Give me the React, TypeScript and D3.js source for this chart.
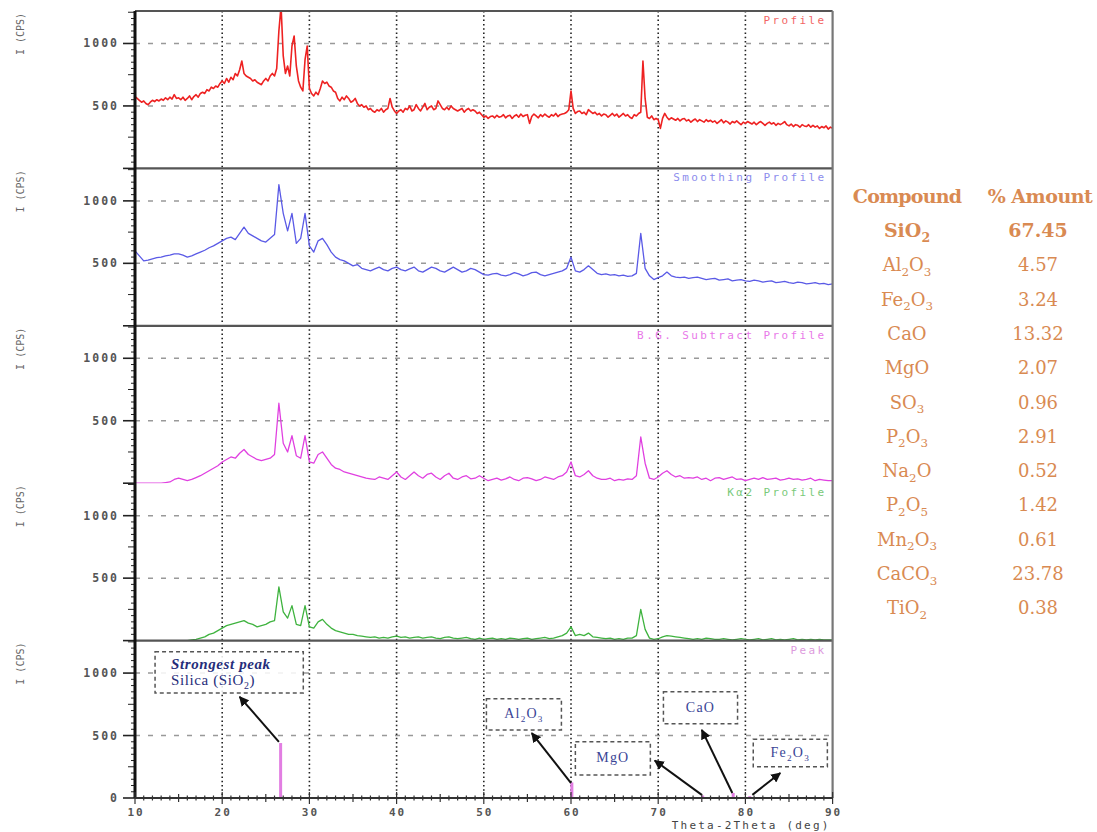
import React, { useEffect, useRef } from "react";
import * as d3 from "d3";

// sampling of the scans (deg 2-theta)
const thetaStart = 10;
const rawStep = 0.25;
const smoothStep = 0.5;

// raw profile, every 0.25 deg from 10 to 90
const profileCps = [
  575, 560, 545, 530, 540, 520, 510, 530, 545, 535, 550, 540, 555, 545, 565, 550,
  570, 555, 590, 560, 565, 550, 570, 545, 560, 580, 550, 575, 590, 570, 600, 610,
  600, 630, 620, 650, 640, 660, 650, 680, 700, 680, 720, 690, 730, 710, 760, 740,
  790, 860, 760, 740, 730, 720, 700, 710, 690, 680, 670, 700, 720, 700, 740, 760,
  740, 800, 1100, 1300, 900, 760, 820, 740, 980, 1060, 820, 700, 650, 620, 870, 980,
  640, 600, 580, 610, 590, 640, 700, 680, 690, 660, 650, 620, 610, 560, 540, 570,
  550, 580, 560, 530, 540, 560, 520, 500, 510, 490, 500, 470, 480, 460, 450, 470,
  460, 480, 450, 470, 480, 560, 490, 460, 440, 460, 470, 450, 480, 470, 500, 460,
  470, 510, 480, 460, 490, 520, 470, 490, 500, 470, 480, 540, 510, 480, 470, 490,
  470, 500, 480, 470, 460, 470, 480, 450, 470, 480, 460, 470, 460, 440, 450, 430,
  410, 420, 400, 415, 420, 405, 425, 410, 415, 430, 405, 420, 425, 400, 420, 430,
  410, 435, 415, 425, 430, 360, 415, 435, 420, 405, 430, 415, 435, 420, 410, 430,
  420, 440, 415, 430, 435, 440, 450, 470, 620, 480, 440, 455, 460, 440, 450, 430,
  470, 455, 440, 450, 430, 440, 420, 435, 430, 410, 425, 440, 420, 435, 410, 425,
  440, 420, 430, 410, 400, 430, 420, 440, 450, 860, 560, 410, 400, 420, 390, 400,
  390, 320, 400, 440, 410, 390, 405, 395, 385, 400, 380, 395, 400, 380, 390, 370,
  385, 395, 375, 390, 380, 370, 390, 375, 385, 370, 380, 360, 375, 390, 365, 380,
  370, 355, 375, 365, 380, 365, 350, 370, 360, 375, 365, 355, 370, 350, 365, 375,
  360, 345, 360, 370, 355, 365, 345, 360, 350, 360, 375, 350, 340, 355, 335, 350,
  345, 330, 350, 340, 335, 350, 330, 345, 330, 340, 320, 335, 325, 340, 315, 330,
  320,
];

// smoothed / background-subtracted / K-alpha2 profiles, every 0.5 deg
const smoothingCps = [
  600, 560, 520, 525, 535, 545, 550, 560, 565, 575, 575, 565, 550, 560, 575, 590,
  605, 625, 640, 660, 680, 700, 710, 690, 740, 790, 740, 720, 700, 680, 670, 700,
  730, 1130, 900, 760, 900, 660, 700, 900, 640, 590, 680, 700, 650, 590, 550, 530,
  520, 500, 480, 490, 460, 450, 440, 455, 470, 450, 440, 460, 470, 450, 440, 455,
  470, 440, 430, 450, 470, 460, 440, 430, 450, 470, 450, 430, 440, 460, 450, 430,
  410, 405, 415, 420, 405, 400, 410, 425, 415, 400, 410, 425, 430, 410, 400, 410,
  420, 430, 440, 460, 550, 440, 430, 450, 480, 450, 420, 410, 415, 405, 410, 400,
  405, 395, 400, 420, 740, 460, 400, 370, 385, 400, 430, 400, 390, 385, 390, 380,
  385, 390, 380, 370, 375, 380, 365, 370, 375, 360, 365, 370, 360, 355, 365, 360,
  350, 355, 360, 345, 350, 355, 345, 340, 350, 345, 335, 340, 345, 335, 340, 330,
  335,
];

const bgSubtractCps = [
  0, 0, 0, 0, 0, 0, 0, 5, 10, 30, 40, 30, 20, 30, 45, 60,
  80, 100, 120, 140, 170, 190, 210, 200, 240, 270, 230, 210, 190, 180, 190, 200,
  230, 640, 320, 250, 380, 220, 200, 380, 170, 160, 230, 250, 200, 150, 120, 110,
  90, 80, 70, 60, 50, 40, 35, 30, 50, 40, 30, 60, 90, 50, 30, 60,
  90, 60, 40, 70, 80, 50, 30, 60, 80, 40, 30, 50, 60, 35, 40, 60,
  40, 20, 30, 40, 25, 35, 50, 30, 20, 40, 45, 35, 20, 30, 50, 40,
  30, 50, 60, 90, 170, 60, 50, 70, 100, 60, 40, 30, 30, 40, 20, 30,
  25, 35, 30, 60, 370, 160, 40, 30, 50, 80, 100, 70, 50, 60, 40, 45,
  40, 50, 30, 40, 20, 40, 45, 30, 40, 50, 30, 35, 20, 30, 40, 30,
  45, 30, 35, 40, 25, 30, 40, 30, 35, 25, 30, 40, 20, 30, 25, 20,
  20,
];

const kAlpha2Cps = [
  0, 0, 0, 0, 0, 0, 0, 0, 0, 0, 0, 0, 0, 5, 10, 20,
  30, 50, 60, 80, 100, 120, 130, 140, 150, 160, 140, 130, 110, 120, 130, 150,
  160, 430, 230, 180, 280, 130, 120, 280, 110, 100, 150, 170, 130, 100, 80, 70,
  60, 50, 50, 40, 35, 30, 25, 30, 20, 25, 20, 30, 35, 25, 30, 20,
  25, 30, 20, 25, 30, 20, 15, 25, 30, 20, 15, 20, 25, 15, 10, 20,
  10, 15, 20, 10, 15, 10, 20, 15, 10, 15, 20, 10, 15, 20, 25, 15,
  20, 30, 40, 60, 110, 40, 50, 40, 60, 30, 25, 20, 15, 20, 10, 15,
  10, 20, 20, 40, 250, 90, 20, 10, 15, 30, 40, 35, 30, 25, 20, 15,
  10, 15, 10, 20, 15, 10, 10, 15, 10, 5, 10, 15, 10, 5, 10, 15,
  5, 10, 15, 5, 10, 5, 10, 15, 5, 10, 5, 10, 5, 10, 5, 5,
  5,
];

// identified peaks
const peakTheta = [26.7, 60.1, 75.1, 78.6, 80.5];
const peakCps = [440, 125, 20, 40, 15];

const xTicks = [10, 20, 30, 40, 50, 60, 70, 80, 90];
const yTickLabels = [1000, 500];

const panelTitles = ["Profile", "Smoothing Profile", "B.G. Subtract Profile", "Kα2 Profile", "Peak"];

// callouts on the peak panel: text, box [x0, x1, yTop, yBottom], arrow [fromX, fromY, toX, toY] (deg / cps)
const calloutText = [["Strongest peak", "Silica (SiO2)"], ["Al2O3"], ["MgO"], ["CaO"], ["Fe2O3"]];
const calloutBox = [
  [12.3, 29.3, 1170, 840],
  [50.3, 58.9, 795, 545],
  [60.5, 69.1, 450, 185],
  [70.6, 79.1, 850, 595],
  [80.9, 89.4, 470, 250],
];
const calloutArrow = [
  [26.5, 450, 22.0, 810],
  [60.0, 120, 55.5, 520],
  [75.0, 25, 69.6, 300],
  [78.5, 40, 75.0, 545],
  [80.8, 25, 84.0, 200],
];

// composition table
const compounds = ["SiO2", "Al2O3", "Fe2O3", "CaO", "MgO", "SO3", "P2O3", "Na2O", "P2O5", "Mn2O3", "CaCO3", "TiO2"];
const amounts = ["67.45", "4.57", "3.24", "13.32", "2.07", "0.96", "2.91", "0.52", "1.42", "0.61", "23.78", "0.38"];

const W = 1097;
const H = 832;

// write a chemical formula with subscripted digits
function formula(sel: any, text: string, size: number) {
  let shift = 0;
  text.split(/(\d+)/).forEach((part, i) => {
    if (!part) return;
    const isSub = i % 2 === 1;
    const target = isSub ? size * 0.25 : 0;
    sel.append("tspan")
      .attr("dy", target - shift)
      .attr("font-size", isSub ? size * 0.66 : size)
      .text(part);
    shift = target;
  });
}

const App = () => {
  const ref = useRef<SVGSVGElement>(null);

  useEffect(() => {
    const svg = d3.select(ref.current);
    svg.selectAll("*").remove();

    const plotTop = 11;
    const panelH = 157.4;
    const left = 135;
    const right = 832.6;
    const bottom = plotTop + panelH * 5;

    const x = d3.scaleLinear().domain([10, 90]).range([left, right]);
    const ys = d3.range(5).map((i) =>
      d3.scaleLinear().domain([0, 1260]).range([plotTop + panelH * (i + 1), plotTop + panelH * i])
    );

    const mono = "DejaVu Sans Mono, monospace";

    // clip paths
    const defs = svg.append("defs");
    ys.forEach((y, i) => {
      defs.append("clipPath").attr("id", `clip${i}`)
        .append("rect")
        .attr("x", left).attr("y", y.range()[1])
        .attr("width", right - left).attr("height", panelH);
    });
    defs.append("marker").attr("id", "arrow")
      .attr("viewBox", "0 0 10 10").attr("refX", 9).attr("refY", 5)
      .attr("markerWidth", 5).attr("markerHeight", 5).attr("orient", "auto")
      .append("path").attr("d", "M0,0L10,5L0,10z").attr("fill", "#111");

    // horizontal grid
    ys.forEach((y) => {
      svg.append("g").selectAll("line").data(yTickLabels).join("line")
        .attr("x1", left).attr("x2", right)
        .attr("y1", (d) => y(d)).attr("y2", (d) => y(d))
        .attr("stroke", "#999").attr("stroke-width", 1.5).attr("stroke-dasharray", "5,8");
    });

    // vertical dotted grid
    svg.append("g").selectAll("line").data(xTicks.slice(1, -1)).join("line")
      .attr("x1", (d) => x(d)).attr("x2", (d) => x(d))
      .attr("y1", plotTop).attr("y2", bottom)
      .attr("stroke", "#222").attr("stroke-width", 1.6).attr("stroke-dasharray", "1.5,2.8");

    // profiles
    const series = [
      { values: profileCps, step: rawStep, color: "#ee2222", panel: 0 },
      { values: smoothingCps, step: smoothStep, color: "#5a5ae6", panel: 1 },
      { values: bgSubtractCps, step: smoothStep, color: "#e040e0", panel: 2 },
      { values: kAlpha2Cps, step: smoothStep, color: "#3fb33f", panel: 3 },
    ];
    series.forEach((s) => {
      const y = ys[s.panel];
      const line = d3.line<number>()
        .x((_, i) => x(thetaStart + i * s.step))
        .y((d) => y(d));
      svg.append("path")
        .datum(s.values)
        .attr("clip-path", `url(#clip${s.panel})`)
        .attr("d", line)
        .attr("fill", "none")
        .attr("stroke", s.color)
        .attr("stroke-width", s.panel === 0 ? 1.6 : 1.3)
        .attr("stroke-linejoin", "round");
    });

    // peak sticks
    svg.append("g").selectAll("line").data(peakTheta).join("line")
      .attr("x1", (d) => x(d)).attr("x2", (d) => x(d))
      .attr("y1", ys[4](0)).attr("y2", (_, i) => ys[4](peakCps[i]))
      .attr("stroke", "#e27ee2").attr("stroke-width", 3);

    // panel borders
    [0, 1, 2, 4].forEach((i) => {
      svg.append("line")
        .attr("x1", left).attr("x2", right)
        .attr("y1", ys[i].range()[1]).attr("y2", ys[i].range()[1])
        .attr("stroke", "#555").attr("stroke-width", 2.2);
    });
    svg.append("line")
      .attr("x1", right).attr("x2", right).attr("y1", plotTop).attr("y2", bottom)
      .attr("stroke", "#777").attr("stroke-width", 2.2);

    // left axis with ticks per panel
    ys.forEach((y, i) => {
      const g = svg.append("g").attr("transform", `translate(${left},0)`);
      const minor = d3.range(0, 1251, 50);
      g.selectAll("line.minor").data(minor).join("line")
        .attr("class", "minor")
        .attr("x1", (d) => (d % 500 === 0 ? -12 : d % 250 === 0 ? -7 : -4)).attr("x2", 0)
        .attr("y1", (d) => y(d)).attr("y2", (d) => y(d))
        .attr("stroke", "#222").attr("stroke-width", (d) => (d % 500 === 0 ? 1.6 : 1));
      const labels = i === 4 ? [...yTickLabels, 0] : yTickLabels;
      g.selectAll("text").data(labels).join("text")
        .attr("x", -16).attr("y", (d) => y(d) + 4)
        .attr("text-anchor", "end")
        .attr("font-family", mono).attr("font-size", 11.5).attr("font-weight", "bold")
        .attr("letter-spacing", 2).attr("fill", "#555")
        .text((d) => d);
      svg.append("text")
        .attr("transform", `translate(24,${y.range()[1] + 23}) rotate(-90)`)
        .attr("text-anchor", "middle")
        .attr("font-family", mono).attr("font-size", 10).attr("fill", "#666")
        .text("I (CPS)");
      svg.append("text")
        .attr("x", right - 6).attr("y", y.range()[1] + 13)
        .attr("text-anchor", "end")
        .attr("font-family", mono).attr("font-size", 11).attr("letter-spacing", 2.4)
        .attr("fill", series[i] ? series[i].color : "#d070d0").attr("opacity", 0.7)
        .text(panelTitles[i]);
    });
    svg.append("line")
      .attr("x1", left).attr("x2", left).attr("y1", plotTop).attr("y2", bottom)
      .attr("stroke", "#111").attr("stroke-width", 3);

    // bottom axis
    const gx = svg.append("g");
    gx.append("line").attr("x1", left).attr("x2", right).attr("y1", bottom).attr("y2", bottom)
      .attr("stroke", "#333").attr("stroke-width", 2);
    gx.selectAll("line.tick").data(d3.range(10, 91, 1)).join("line")
      .attr("class", "tick")
      .attr("x1", (d) => x(d)).attr("x2", (d) => x(d))
      .attr("y1", (d) => bottom - (d % 10 === 0 ? 6 : d % 5 === 0 ? 4 : 2.5))
      .attr("y2", (d) => bottom + (d % 10 === 0 ? 6 : d % 5 === 0 ? 4 : 2.5))
      .attr("stroke", "#333").attr("stroke-width", 1.2);
    gx.selectAll("text").data(xTicks).join("text")
      .attr("x", (d) => x(d) + 1).attr("y", bottom + 18)
      .attr("text-anchor", "middle")
      .attr("font-family", mono).attr("font-size", 11).attr("font-weight", "bold")
      .attr("letter-spacing", 2).attr("fill", "#555")
      .text((d) => d);
    gx.append("text")
      .attr("x", right - 2).attr("y", 829)
      .attr("text-anchor", "end")
      .attr("font-family", mono).attr("font-size", 11).attr("letter-spacing", 2.2)
      .attr("fill", "#444")
      .text("Theta-2Theta (deg)");

    // callouts
    const yp = ys[4];
    calloutBox.forEach((b, i) => {
      const g = svg.append("g");
      g.append("rect")
        .attr("x", x(b[0])).attr("y", yp(b[2]))
        .attr("width", x(b[1]) - x(b[0])).attr("height", yp(b[3]) - yp(b[2]))
        .attr("fill", "white").attr("fill-opacity", 0.85)
        .attr("stroke", "#555").attr("stroke-width", 1.5).attr("stroke-dasharray", "4,3");
      const lines = calloutText[i];
      if (lines.length === 2) {
        g.append("text")
          .attr("x", x(b[0]) + 16).attr("y", yp(b[2]) + 17)
          .attr("font-family", "Liberation Serif, serif").attr("font-size", 15)
          .attr("font-weight", "bold").attr("font-style", "italic").attr("letter-spacing", 0.6)
          .attr("fill", "#262d7a").text(lines[0]);
        const t = g.append("text")
          .attr("x", x(b[0]) + 16).attr("y", yp(b[2]) + 33)
          .attr("font-family", "Liberation Serif, serif").attr("letter-spacing", 0.6)
          .attr("fill", "#262d7a");
        formula(t, lines[1], 15);
      } else {
        const t = g.append("text")
          .attr("x", (x(b[0]) + x(b[1])) / 2).attr("y", (yp(b[2]) + yp(b[3])) / 2 + 4)
          .attr("text-anchor", "middle")
          .attr("font-family", "Liberation Serif, serif").attr("letter-spacing", 1.2)
          .attr("fill", "#3a4596");
        formula(t, lines[0], 14);
      }
      const a = calloutArrow[i];
      g.append("line")
        .attr("x1", x(a[0])).attr("y1", yp(a[1]))
        .attr("x2", x(a[2])).attr("y2", yp(a[3]))
        .attr("stroke", "#111").attr("stroke-width", 2)
        .attr("marker-end", "url(#arrow)");
    });

    // composition table
    const rowY = d3.scalePoint().domain(compounds).range([237, 614.3]);
    const colC = 907;
    const colA = 1038;
    const tg = svg.append("g").attr("font-family", "DejaVu Serif, serif").attr("fill", "#d98a52");
    tg.append("text").attr("x", colC).attr("y", 203).attr("text-anchor", "middle")
      .attr("font-size", 19).attr("font-weight", "bold").attr("letter-spacing", -0.8)
      .text("Compound");
    tg.append("text").attr("x", colA + 2).attr("y", 203).attr("text-anchor", "middle")
      .attr("font-size", 19).attr("font-weight", "bold").attr("letter-spacing", -0.5)
      .text("% Amount");
    compounds.forEach((c, i) => {
      const bold = i === 0;
      const t = tg.append("text").attr("x", colC).attr("y", rowY(c)!)
        .attr("text-anchor", "middle").attr("font-weight", bold ? "bold" : "normal");
      formula(t, c, bold ? 19 : 18);
      tg.append("text").attr("x", colA).attr("y", rowY(c)!)
        .attr("text-anchor", "middle")
        .attr("font-size", bold ? 19 : 18).attr("font-weight", bold ? "bold" : "normal")
        .text(amounts[i]);
    });
  }, []);

  return (
    <svg
      ref={ref}
      width={W}
      height={H}
      style={{ position: "absolute", left: 0, top: 0, background: "white" }}
    />
  );
};

export default App;
